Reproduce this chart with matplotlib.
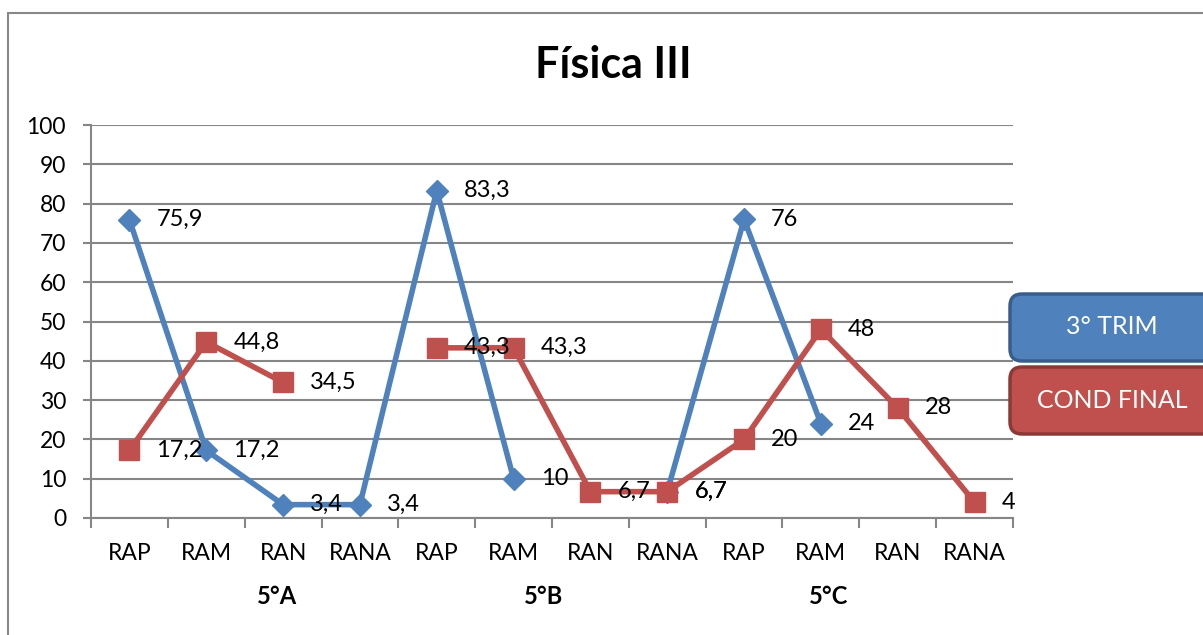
import numpy as np
import matplotlib
matplotlib.use("Agg")
import matplotlib.pyplot as plt
from matplotlib.patches import Rectangle, FancyBboxPatch

plt.rcParams['font.family'] = ['Lato', 'DejaVu Sans']

# --- data ---
categories = ["RAP", "RAM", "RAN", "RANA"] * 3
groups = ["5°A", "5°B", "5°C"]
group_pos = [1.92, 5.39, 9.10]
trim3 = [75.9, 17.2, 3.4, 3.4, 83.3, 10, np.nan, 6.7, 76, 24, np.nan, np.nan]
cond_final = [17.2, 44.8, 34.5, np.nan, 43.3, 43.3, 6.7, 6.7, 20, 48, 28, 4]
series_names = ["3° TRIM", "COND FINAL"]

BLUE = "#4F81BD"
RED = "#C0504D"
GRID = "#868686"

W, H = 1203, 635
fig = plt.figure(figsize=(W / 100, H / 100), dpi=100)

# outer chart border (runs off the right and bottom edges)
fig.add_artist(Rectangle((8 / W, -0.1), 1.2, (H - 12.7) / H + 0.1,
                         transform=fig.transFigure, fill=False,
                         edgecolor="#888888", lw=1.5))

ax = fig.add_axes([91 / W, (H - 518) / H, (1013 - 91) / W, (518 - 125) / H])
x = np.arange(len(categories))

ax.plot(x, trim3, color=BLUE, lw=4, marker="D", ms=11, mec=BLUE, zorder=3)
ax.plot(x, cond_final, color=RED, lw=4, marker="s", ms=14, mec=RED, zorder=4)


def fmt(v):
    s = f"{v:.1f}".rstrip("0").rstrip(".")
    return s.replace(".", ",")


for vals in (trim3, cond_final):
    for xi, v in zip(x, vals):
        if np.isnan(v):
            continue
        ax.annotate(fmt(v), (xi, v), xytext=(19.5, 0), textcoords="offset points",
                    ha="left", va="center", fontsize=17, color="black", zorder=5,
                    annotation_clip=False)

ax.set_xlim(-0.5, len(categories) - 0.5)
ax.set_ylim(0, 100)
ax.set_yticks(np.arange(0, 101, 10))
ax.tick_params(axis="y", length=6, width=1.5, color=GRID, labelsize=16.5, pad=12)
ax.yaxis.grid(True, color=GRID, lw=1.5)
ax.set_axisbelow(True)

ax.set_xticks(x)
ax.set_xticklabels(categories)
ax.tick_params(axis="x", which="major", length=0, labelsize=16.5, pad=18)
ax.set_xticks(np.arange(-0.5, len(categories)), minor=True)
ax.tick_params(axis="x", which="minor", length=7, width=1.5, color=GRID)

for s in ("top", "right"):
    ax.spines[s].set_visible(False)
for s in ("left", "bottom"):
    ax.spines[s].set_color(GRID)
    ax.spines[s].set_linewidth(1.5)

for g, gp in zip(groups, group_pos):
    ax.text(gp, -0.2, g, transform=ax.get_xaxis_transform(),
            ha="center", va="center", fontsize=17, fontweight="bold")

fig.text(613 / W, 1 - 65 / H, "Física III", ha="center", va="center",
         fontsize=31, fontweight="bold")

# legend boxes
for (name, face, edge, top) in [(series_names[0], BLUE, "#385D8A", 292),
                                (series_names[1], RED, "#8C3836", 365)]:
    box = FancyBboxPatch((10.10, (H - top - 71) / 100 + 0.02), 2.5, 0.67,
                         boxstyle="round,pad=0,rounding_size=0.12",
                         transform=fig.dpi_scale_trans, facecolor=face,
                         edgecolor=edge, lw=2.5)
    fig.add_artist(box)
    fig.text(1112 / W, 1 - (top + 35) / H, name, ha="center", va="center",
             fontsize=18, color="white")

fig.savefig("out.png", dpi=100)
